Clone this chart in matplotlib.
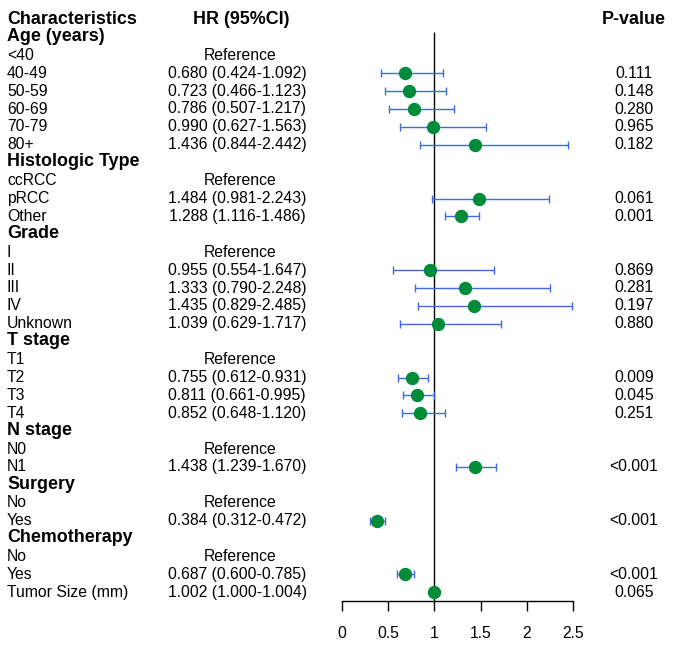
import matplotlib.pyplot as plt
from matplotlib.transforms import blended_transform_factory

plt.rcParams['font.family'] = ['Liberation Sans', 'DejaVu Sans']

# rows of the table, top to bottom (header row not included)
labels = ["Age (years)", "<40", "40-49", "50-59", "60-69", "70-79", "80+",
          "Histologic Type", "ccRCC", "pRCC", "Other",
          "Grade", "I", "II", "III", "IV", "Unknown",
          "T stage", "T1", "T2", "T3", "T4",
          "N stage", "N0", "N1",
          "Surgery", "No", "Yes",
          "Chemotherapy", "No", "Yes",
          "Tumor Size (mm)"]
is_header = [True, False, False, False, False, False, False,
             True, False, False, False,
             True, False, False, False, False, False,
             True, False, False, False, False,
             True, False, False,
             True, False, False,
             True, False, False,
             False]
# "ref" = reference level, None = section header
hr = [None, "ref", 0.680, 0.723, 0.786, 0.990, 1.436,
      None, "ref", 1.484, 1.288,
      None, "ref", 0.955, 1.333, 1.435, 1.039,
      None, "ref", 0.755, 0.811, 0.852,
      None, "ref", 1.438,
      None, "ref", 0.384,
      None, "ref", 0.687,
      1.002]
lower = [None, None, 0.424, 0.466, 0.507, 0.627, 0.844,
         None, None, 0.981, 1.116,
         None, None, 0.554, 0.790, 0.829, 0.629,
         None, None, 0.612, 0.661, 0.648,
         None, None, 1.239,
         None, None, 0.312,
         None, None, 0.600,
         1.000]
upper = [None, None, 1.092, 1.123, 1.217, 1.563, 2.442,
         None, None, 2.243, 1.486,
         None, None, 1.647, 2.248, 2.485, 1.717,
         None, None, 0.931, 0.995, 1.120,
         None, None, 1.670,
         None, None, 0.472,
         None, None, 0.785,
         1.004]
pvals = ["", "", "0.111", "0.148", "0.280", "0.965", "0.182",
         "", "", "0.061", "0.001",
         "", "", "0.869", "0.281", "0.197", "0.880",
         "", "", "0.009", "0.045", "0.251",
         "", "", "<0.001",
         "", "", "<0.001",
         "", "", "<0.001",
         "0.065"]
xticks = [0, 0.5, 1, 1.5, 2, 2.5]

W, H = 688, 654
fig = plt.figure(figsize=(W / 100, H / 100), dpi=100)
ax = fig.add_axes([0, 0, 1, 1])

# map data units to pixels: x_px = x0 + sx * hr ; y_px = y0 + sy * row
x0, sx = 341.6, 92.6
y0, sy = 19.5, 17.9
ax.set_xlim(-x0 / sx, (W - x0) / sx)
ax.set_ylim((H - y0) / sy, -y0 / sy)

trans = blended_transform_factory(fig.transFigure, ax.transData)
fs, fs_b = 11.3, 12.9

ax.text(7 / W, 0, "Characteristics", transform=trans, ha='left', va='center',
        fontsize=fs_b, fontweight='bold')
ax.text(241 / W, 0, "HR (95%CI)", transform=trans, ha='center', va='center',
        fontsize=fs_b, fontweight='bold')
ax.text(634 / W, 0, "P-value", transform=trans, ha='center', va='center',
        fontsize=fs_b, fontweight='bold')

for i, lab in enumerate(labels):
    r = i + 1
    if is_header[i]:
        ax.text(7 / W, r - 0.05, lab, transform=trans, ha='left', va='center',
                fontsize=fs_b, fontweight='bold')
        continue
    ax.text(7 / W, r, lab, transform=trans, ha='left', va='center', fontsize=fs)
    if hr[i] == "ref":
        ax.text(240 / W, r, "Reference", transform=trans, ha='center',
                va='center', fontsize=fs)
        continue
    ax.text(237 / W, r, f"{hr[i]:.3f} ({lower[i]:.3f}-{upper[i]:.3f})",
            transform=trans, ha='center', va='center', fontsize=fs)
    ax.text(634 / W, r, pvals[i], transform=trans, ha='center', va='center',
            fontsize=fs)
    ax.errorbar(hr[i], r, xerr=[[hr[i] - lower[i]], [upper[i] - hr[i]]],
                fmt='none', ecolor='#4169E1', elinewidth=1, capsize=3,
                capthick=1, zorder=2)
    ax.plot(hr[i], r, 'o', color='#008B3A', markersize=8.6, zorder=3)

axis_row = (601 - y0) / sy
ax.vlines(1, (32 - y0) / sy, axis_row, color='black', lw=1, zorder=1)

for s in ['top', 'left', 'right']:
    ax.spines[s].set_visible(False)
ax.spines['bottom'].set_position(('data', axis_row))
ax.spines['bottom'].set_bounds(0, 2.5)
ax.spines['bottom'].set_linewidth(1)
ax.set_xticks(xticks)
ax.set_xticklabels([f"{t:g}" for t in xticks])
ax.tick_params(axis='x', direction='out', length=7.2, width=1, pad=11,
               labelsize=fs)
ax.set_yticks([])
ax.patch.set_alpha(0)

fig.savefig("out.png", dpi=100)
